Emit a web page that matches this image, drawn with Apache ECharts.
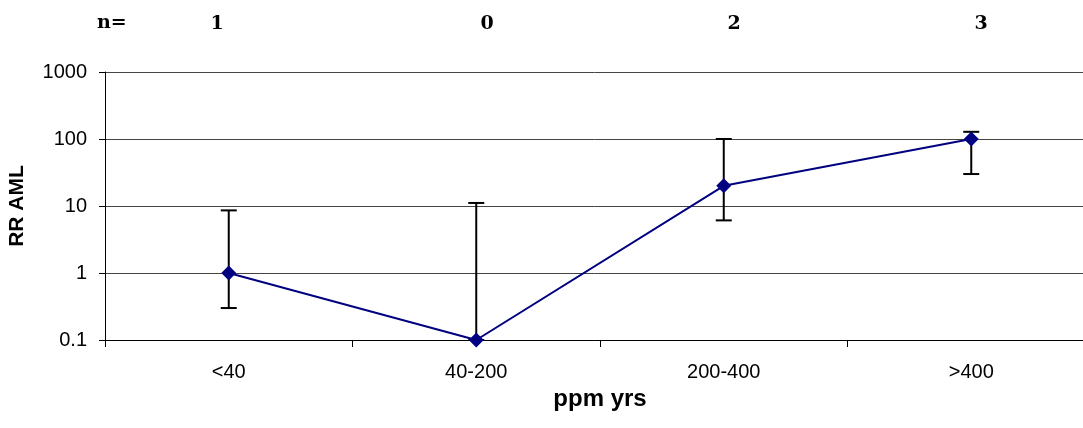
<!DOCTYPE html>
<html>
<head>
<meta charset="utf-8">
<script src="https://cdn.jsdelivr.net/npm/echarts@6/dist/echarts.min.js"></script>
<style>
  html, body { margin: 0; padding: 0; background: #fff; }
  #chart { width: 1083px; height: 428px; }
</style>
</head>
<body>
<div id="chart"></div>
<script>
// categories and values
const categories = ['<40', '40-200', '200-400', '>400'];
const rrValues = [1, 0.1, 20, 100];
const errLow = [0.3, 0.1, 6.1, 30];
const errHigh = [8.6, 11.1, 100, 128];
const nCounts = ['1', '0', '2', '3'];
const yTicks = [0.1, 1, 10, 100, 1000];

// x centres of the n= labels above the plot
const nPos = [217, 487, 734, 981];

const chart = echarts.init(document.getElementById('chart'));

const errData = categories.map((c, i) => [i, errLow[i], errHigh[i]]);

const serifBold = 'bold 19px "DejaVu Serif"';
const topTexts = [{
  type: 'text', left: 97, top: 14,
  style: { text: 'n=', font: serifBold, fill: '#000' }
}].concat(nCounts.map((n, i) => ({
  type: 'text', x: nPos[i], y: 24,
  style: { text: n, font: serifBold, fill: '#000', align: 'center', verticalAlign: 'middle' }
})));

const option = {
  animation: false,
  grid: { left: 105, top: 72, width: 990, height: 268, outerBoundsMode: 'none', containLabel: false },
  xAxis: {
    type: 'category',
    data: categories,
    boundaryGap: true,
    name: 'ppm yrs',
    nameLocation: 'middle',
    nameGap: 44,
    nameTextStyle: { fontFamily: 'Liberation Sans', fontWeight: 'bold', fontSize: 24, color: '#000' },
    axisLine: { lineStyle: { color: '#000', width: 1 } },
    axisTick: { show: true, length: 7, lineStyle: { color: '#000' } },
    axisLabel: { fontFamily: 'Liberation Sans', fontSize: 20, color: '#000', margin: 22 },
    splitLine: { show: false }
  },
  yAxis: {
    type: 'log',
    logBase: 10,
    min: 0.1,
    max: 1000,
    name: 'RR AML',
    nameLocation: 'middle',
    nameGap: 77,
    nameTextStyle: { fontFamily: 'Liberation Sans', fontWeight: 'bold', fontSize: 21, color: '#000' },
    axisLine: { show: true, lineStyle: { color: '#000', width: 1 } },
    axisTick: { show: true, length: 6, lineStyle: { color: '#000' } },
    axisLabel: {
      fontFamily: 'Liberation Sans', fontSize: 20, color: '#000', margin: 18,
      formatter: v => {
        const t = yTicks.find(x => Math.abs(x - v) / x < 1e-6);
        return t === undefined ? '' : String(t);
      }
    },
    splitLine: { show: true, lineStyle: { color: '#444', width: 1 } },
    minorTick: { show: false }
  },
  graphic: topTexts,
  series: [
    {
      type: 'custom',
      z: 3,
      data: errData,
      renderItem: (params, api) => {
        const x = api.value(0);
        const lo = api.coord([x, api.value(1)]);
        const hi = api.coord([x, api.value(2)]);
        const half = 8;
        const st = { stroke: '#000', lineWidth: 2 };
        return {
          type: 'group',
          children: [
            { type: 'line', shape: { x1: lo[0], y1: lo[1], x2: hi[0], y2: hi[1] }, style: st },
            { type: 'line', shape: { x1: hi[0] - half, y1: hi[1], x2: hi[0] + half, y2: hi[1] }, style: st },
            { type: 'line', shape: { x1: lo[0] - half, y1: lo[1], x2: lo[0] + half, y2: lo[1] }, style: st }
          ]
        };
      }
    },
    {
      type: 'line',
      z: 4,
      data: rrValues,
      symbol: 'diamond',
      symbolSize: 15,
      lineStyle: { color: '#000080', width: 2 },
      itemStyle: { color: '#000080' }
    }
  ]
};

chart.setOption(option);
</script>
</body>
</html>
